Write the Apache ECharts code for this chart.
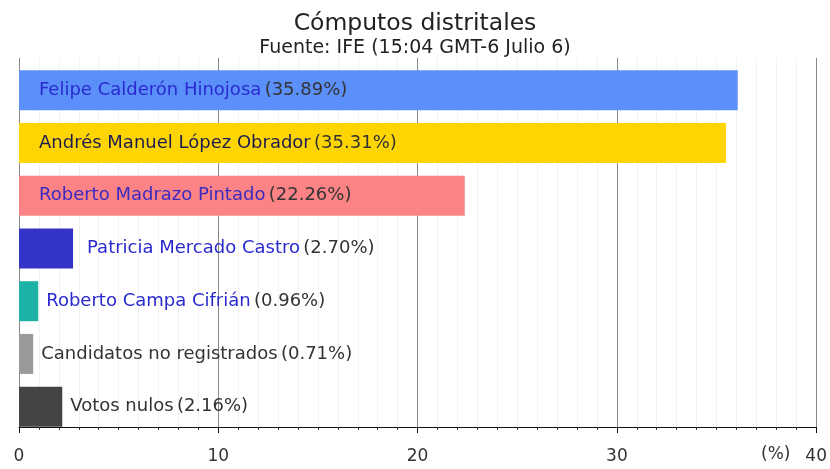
<!DOCTYPE html>
<html>
<head>
<meta charset="utf-8">
<script src="https://cdn.jsdelivr.net/npm/echarts@6/dist/echarts.min.js"></script>
<style>
  html, body { margin: 0; padding: 0; background: #fff; }
  #chart { width: 830px; height: 469px; }
</style>
</head>
<body>
<div id="chart"></div>
<script>
// datos de los cómputos distritales
const names = [
  "Felipe Calderón Hinojosa",
  "Andrés Manuel López Obrador",
  "Roberto Madrazo Pintado",
  "Patricia Mercado Castro",
  "Roberto Campa Cifrián",
  "Candidatos no registrados",
  "Votos nulos"
];
const percents = [35.89, 35.31, 22.26, 2.70, 0.96, 0.71, 2.16];
const barColors = ["#5b8ff9", "#fed500", "#fb8385", "#3434c8", "#1db2a8", "#9a9a9a", "#444444"];
const nameColors = ["#2a2ad0", "#1c1c50", "#3a2ac0", "#2a2ad0", "#2a2ad0", "#333333", "#333333"];
const xTicks = [0, 10, 20, 30, 40];

const FONT = "DejaVu Sans";
const chart = echarts.init(document.getElementById("chart"));

const seriesData = percents.map((v, i) => {
  const inside = v > 10;
  return {
    value: v,
    itemStyle: { color: barColors[i] },
    label: {
      show: true,
      position: inside ? "insideLeft" : "right",
      distance: inside ? 20 : (i === 3 ? 14 : 8),
      formatter: () => "{n|" + names[i] + "} {p|(" + v.toFixed(2) + "%)}",
      rich: {
        n: { color: nameColors[i], fontSize: 18, fontFamily: FONT },
        p: { color: "#333", fontSize: 18, fontFamily: FONT }
      }
    }
  };
});

const option = {
  animation: false,
  title: {
    text: "Cómputos distritales",
    subtext: "Fuente: IFE (15:04 GMT-6 Julio 6)",
    left: "center",
    top: 7,
    padding: [5, 0, 5, 14],
    itemGap: 3,
    textStyle: { fontSize: 23.5, fontWeight: "normal", color: "#222", fontFamily: FONT },
    subtextStyle: { fontSize: 19, color: "#222", fontFamily: FONT }
  },
  grid: [
    { left: 19, right: 10, top: 58, bottom: 42 },
    { left: 19, right: 10, top: 64, bottom: 36 }
  ],
  xAxis: [
    {
      gridIndex: 0,
      type: "value",
      min: xTicks[0],
      max: xTicks[xTicks.length - 1],
      interval: 10,
      axisLine: { show: true, onZero: false, lineStyle: { color: "#111", width: 1 } },
      axisTick: { show: true, length: 6, lineStyle: { color: "#111" } },
      minorTick: { show: true, splitNumber: 10, length: 3, lineStyle: { color: "#333" } },
      axisLabel: { color: "#333", fontSize: 17, margin: 21, fontFamily: FONT },
      splitLine: { show: true, lineStyle: { color: "#888", width: 1 } },
      minorSplitLine: { show: true, lineStyle: { color: "#f2f2f2", width: 1 } }
    },
    {
      gridIndex: 1,
      type: "value",
      min: xTicks[0],
      max: xTicks[xTicks.length - 1],
      show: false,
      splitLine: { show: false }
    }
  ],
  yAxis: [
    { gridIndex: 0, type: "category", data: names, show: false },
    {
      gridIndex: 1,
      type: "category",
      data: names,
      inverse: true,
      show: false
    }
  ],
  graphic: [
    {
      type: "text",
      left: 761,
      top: 446,
      style: { text: "(%)", fontSize: 17, fill: "#333", fontFamily: FONT }
    }
  ],
  series: [
    {
      type: "bar",
      xAxisIndex: 1,
      yAxisIndex: 1,
      barWidth: 40,
      data: seriesData
    }
  ]
};

chart.setOption(option);
</script>
</body>
</html>
